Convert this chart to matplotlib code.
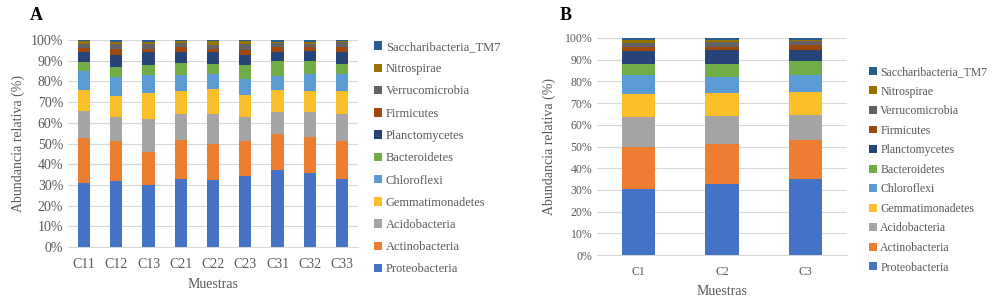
import matplotlib
matplotlib.use("Agg")
import matplotlib.pyplot as plt
import numpy as np
from matplotlib.patches import Patch

plt.rcParams['font.family'] = ['Liberation Serif', 'DejaVu Serif']

# Filos (orden de apilado, de abajo hacia arriba)
filos = ['Proteobacteria', 'Actinobacteria', 'Acidobacteria', 'Gemmatimonadetes',
         'Chloroflexi', 'Bacteroidetes', 'Planctomycetes', 'Firmicutes',
         'Verrucomicrobia', 'Nitrospirae', 'Saccharibacteria_TM7']
colores = ['#4472C4', '#ED7D31', '#A5A5A5', '#FBBF2A', '#5B9BD5', '#70AD47',
           '#264478', '#9E480E', '#636363', '#997300', '#255E91']

# Panel A: muestras individuales
muestras_a = ['C11', 'C12', 'C13', 'C21', 'C22', 'C23', 'C31', 'C32', 'C33']
proteo_a = [30.7, 31.7, 29.8, 33.0, 32.3, 34.2, 37.4, 35.8, 33.0]
actino_a = [21.8, 19.5, 16.3, 18.7, 17.5, 17.2, 17.0, 17.2, 18.2]
acido_a = [13.3, 11.7, 15.7, 12.8, 14.7, 11.5, 10.9, 12.3, 13.3]
gemma_a = [9.9, 9.9, 12.6, 10.7, 12.0, 10.4, 10.4, 9.9, 10.9]
chloro_a = [9.3, 9.3, 8.5, 7.7, 6.9, 7.8, 6.9, 8.5, 8.0]
bactero_a = [4.3, 5.1, 5.1, 5.9, 5.1, 6.9, 7.5, 6.1, 5.1]
plancto_a = [4.8, 5.8, 6.1, 5.3, 5.6, 5.0, 4.0, 5.1, 5.6]
firmi_a = [1.9, 2.8, 1.6, 2.4, 1.6, 2.4, 2.4, 1.6, 2.7]
verruco_a = [2.0, 2.3, 2.4, 1.9, 2.1, 2.7, 2.1, 1.6, 2.1]
nitro_a = [1.4, 0.9, 1.1, 1.0, 1.9, 1.6, 0.6, 0.9, 0.8]
tm7_a = [0.6, 1.0, 0.8, 0.6, 0.3, 0.3, 0.8, 1.0, 0.3]

# Panel B: promedios por sitio
muestras_b = ['C1', 'C2', 'C3']
proteo_b = [30.5, 32.9, 35.2]
actino_b = [19.5, 18.3, 17.6]
acido_b = [13.5, 13.0, 11.8]
gemma_b = [10.8, 10.6, 10.5]
chloro_b = [8.5, 7.2, 7.7]
bactero_b = [5.2, 6.2, 6.7]
plancto_b = [5.8, 6.1, 5.1]
firmi_b = [1.9, 1.5, 2.0]
verruco_b = [2.0, 2.2, 1.9]
nitro_b = [1.2, 1.2, 0.7]
tm7_b = [1.1, 0.8, 0.8]

series_a = [proteo_a, actino_a, acido_a, gemma_a, chloro_a, bactero_a,
            plancto_a, firmi_a, verruco_a, nitro_a, tm7_a]
series_b = [proteo_b, actino_b, acido_b, gemma_b, chloro_b, bactero_b,
            plancto_b, firmi_b, verruco_b, nitro_b, tm7_b]

gris_texto = '#595959'
gris_linea = '#D9D9D9'


def dibujar(ax, muestras, series, ancho, tam_ticks):
    x = np.arange(len(muestras))
    base = np.zeros(len(muestras))
    for valores, color in zip(series, colores):
        valores = np.array(valores)
        ax.bar(x, valores, ancho, bottom=base, color=color, zorder=3)
        base += valores
    ax.set_xlim(-0.5, len(muestras) - 0.5)
    ax.set_ylim(0, 100)
    ax.set_yticks(np.arange(0, 101, 10))
    ax.set_yticklabels([f'{v}%' for v in range(0, 101, 10)])
    ax.set_xticks(x)
    ax.set_xticklabels(muestras)
    ax.grid(axis='y', color=gris_linea, linewidth=0.8, zorder=0)
    for lado in ['top', 'right', 'left']:
        ax.spines[lado].set_visible(False)
    ax.spines['bottom'].set_color(gris_linea)
    ax.tick_params(length=0, colors=gris_texto, labelsize=tam_ticks)
    ax.tick_params(axis='x', pad=8)
    ax.set_xlabel('Muestras', color=gris_texto, fontsize=10, labelpad=5)
    ax.set_ylabel('Abundancia relativa (%)', color=gris_texto, fontsize=10)


fig = plt.figure(figsize=(10, 2.99), dpi=100)

ax_a = fig.add_axes([0.068, 0.174, 0.29, 0.692])
dibujar(ax_a, muestras_a, series_a, 0.38, 10)
ax_a.yaxis.set_label_coords(-0.148, 0.5)

ax_b = fig.add_axes([0.597, 0.147, 0.25, 0.726])
dibujar(ax_b, muestras_b, series_b, 0.4, 8.5)
ax_b.yaxis.set_label_coords(-0.165, 0.5)

handles = [Patch(facecolor=c, label=f) for f, c in zip(filos, colores)][::-1]

fig.legend(handles=handles, loc='upper left', bbox_to_anchor=(0.374, 1 - 41 / 299),
           frameon=False, fontsize=9, labelcolor=gris_texto, labelspacing=0.82,
           handlelength=0.65, handleheight=0.65, handletextpad=0.3, borderpad=0,
           borderaxespad=0)
fig.legend(handles=handles, loc='upper left', bbox_to_anchor=(0.869, 1 - 66 / 299),
           frameon=False, fontsize=8.5, labelcolor=gris_texto, labelspacing=0.64,
           handlelength=0.65, handleheight=0.65, handletextpad=0.3, borderpad=0,
           borderaxespad=0)

fig.text(0.036, 1 - 16 / 299, 'A', fontsize=13, fontweight='bold', ha='center', va='center')
fig.text(0.566, 1 - 16 / 299, 'B', fontsize=13, fontweight='bold', ha='center', va='center')

fig.savefig('out.png', dpi=100)
